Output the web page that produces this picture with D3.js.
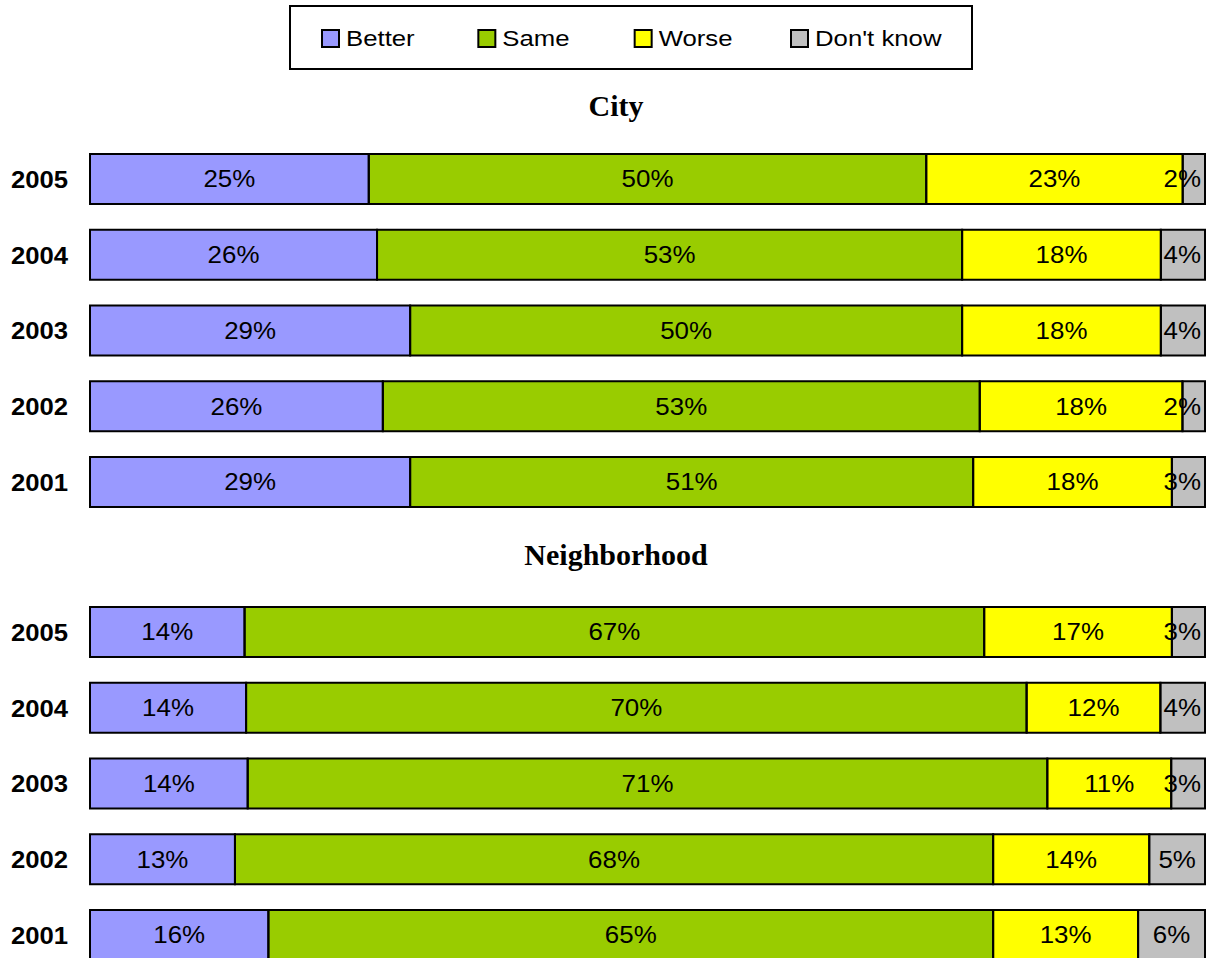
<!DOCTYPE html>
<html>
<head>
<meta charset="utf-8">
<script src="https://cdn.jsdelivr.net/npm/d3@7"></script>
<style>
  html, body { margin: 0; padding: 0; background: #fff; }
  svg { display: block; }
</style>
</head>
<body>
<svg id="chart" width="1210" height="958"></svg>
<script>
// ---- data ----
const seriesNames = ["Better", "Same", "Worse", "Don't know"];
const seriesColors = ["#9999FF", "#99CC00", "#FFFF00", "#C0C0C0"];
const years = ["2005", "2004", "2003", "2002", "2001"];
const panelTitles = ["City", "Neighborhood"];

const cityBetter   = [25, 26, 29, 26, 29];
const citySame     = [50, 53, 50, 53, 51];
const cityWorse    = [23, 18, 18, 18, 18];
const cityDontKnow = [2, 4, 4, 2, 3];

const nbhdBetter   = [14, 14, 14, 13, 16];
const nbhdSame     = [67, 70, 71, 68, 65];
const nbhdWorse    = [17, 12, 11, 14, 13];
const nbhdDontKnow = [3, 4, 3, 5, 6];

const panels = [
  { title: panelTitles[0], values: [cityBetter, citySame, cityWorse, cityDontKnow], top: 154, titleY: 116 },
  { title: panelTitles[1], values: [nbhdBetter, nbhdSame, nbhdWorse, nbhdDontKnow], top: 607, titleY: 565 }
];

// ---- layout ----
const svg = d3.select("#chart");
const x0 = 90, x1 = 1205;
const step = 75.75, barH = 50;
const x = d3.scaleLinear().domain([0, 1]).range([x0, x1]);
const color = d3.scaleOrdinal().domain(seriesNames).range(seriesColors);

// Legend
const legend = svg.append("g");
legend.append("rect")
  .attr("x", 290).attr("y", 6).attr("width", 682).attr("height", 63)
  .attr("fill", "#fff").attr("stroke", "#000").attr("stroke-width", 2);
const lx = d3.scalePoint().domain(seriesNames).range([322, 791]);
const li = legend.selectAll("g.li").data(seriesNames).join("g").attr("class", "li")
  .attr("transform", d => `translate(${lx(d)},30)`);
li.append("rect").attr("x", 0).attr("y", 0).attr("width", 17).attr("height", 17)
  .attr("fill", d => color(d)).attr("stroke", "#000").attr("stroke-width", 2);
li.append("text")
  .attr("transform", "translate(24,16) scale(1.17,1)")
  .attr("font-family", "Liberation Sans, Arial, sans-serif")
  .attr("font-size", 22).attr("fill", "#000")
  .text(d => d);

panels.forEach(p => {
  const rows = years.map((yr, i) => {
    const r = { year: yr };
    seriesNames.forEach((s, k) => r[s] = p.values[k][i]);
    return r;
  });
  const stack = d3.stack().keys(seriesNames).offset(d3.stackOffsetExpand);
  const layers = stack(rows);

  const y = d3.scaleBand().domain(years)
    .range([p.top, p.top + step * (years.length - 0.34)])
    .paddingInner(0.34).paddingOuter(0);

  const g = svg.append("g");

  // title
  g.append("text")
    .attr("x", 616).attr("y", p.titleY)
    .attr("text-anchor", "middle")
    .attr("font-family", "Liberation Serif, Times New Roman, serif")
    .attr("font-weight", "bold").attr("font-size", 30)
    .text(p.title);

  // year labels
  g.selectAll("text.yr").data(years).join("text").attr("class", "yr")
    .attr("transform", d => `translate(68,${y(d) + y.bandwidth() / 2 + 9}) scale(1.07,1)`)
    .attr("text-anchor", "end")
    .attr("font-family", "Liberation Sans, Arial, sans-serif")
    .attr("font-weight", "bold").attr("font-size", 24)
    .text(d => d);

  // fills
  layers.forEach(layer => {
    g.selectAll(null).data(layer).join("rect")
      .attr("x", d => x(d[0])).attr("y", d => y(d.data.year))
      .attr("width", d => x(d[1]) - x(d[0])).attr("height", y.bandwidth())
      .attr("fill", color(layer.key));
  });

  // labels
  layers.forEach(layer => {
    g.selectAll(null).data(layer).join("text")
      .attr("font-family", "Liberation Sans, Arial, sans-serif")
      .attr("font-size", 24).attr("fill", "#000")
      .attr("text-anchor", "middle")
      .text(d => d.data[layer.key] + "%")
      .each(function(d) {
        const w = this.getComputedTextLength() * 1.08;
        let cx = (x(d[0]) + x(d[1])) / 2;
        cx = Math.min(cx, x1 - 4 - w / 2);
        const cy = y(d.data.year) + y.bandwidth() / 2 + 8.5;
        d3.select(this).attr("transform", `translate(${cx},${cy}) scale(1.08,1)`);
      });
  });

  // outlines on top
  layers.forEach(layer => {
    g.selectAll(null).data(layer).join("rect")
      .attr("x", d => x(d[0])).attr("y", d => y(d.data.year))
      .attr("width", d => x(d[1]) - x(d[0])).attr("height", y.bandwidth())
      .attr("fill", "none").attr("stroke", "#000").attr("stroke-width", 2);
  });
});
</script>
</body>
</html>
